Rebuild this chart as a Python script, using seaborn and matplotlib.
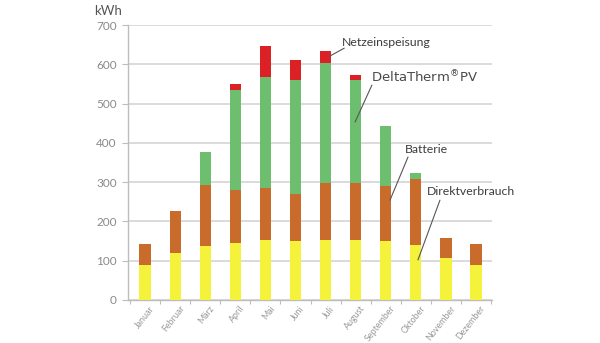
import numpy as np
import pandas as pd
import matplotlib
matplotlib.use("Agg")
import matplotlib.pyplot as plt
import matplotlib.transforms as mtransforms
import seaborn as sns

months = ["Januar", "Februar", "März", "April", "Mai", "Juni", "Juli",
          "August", "September", "Oktober", "November", "Dezember"]
direktverbrauch = [89, 120, 138, 144, 153, 150, 153, 153, 151, 139, 106, 89]
batterie = [53, 106, 154, 137, 133, 120, 146, 144, 139, 168, 53, 53]
deltatherm_pv = [0, 0, 84, 254, 281, 290, 305, 263, 154, 15, 0, 0]
netzeinspeisung = [0, 0, 0, 15, 79, 52, 30, 14, 0, 0, 0, 0]
y_ticks = [0, 100, 200, 300, 400, 500, 600, 700]

sns.set_theme(style="white")
plt.rcParams["font.family"] = ["Lato", "DejaVu Sans"]

colors = {"Direktverbrauch": "#F4F23A", "Batterie": "#C96C2B",
          "DeltaTherm": "#6DBE6E", "Netzeinspeisung": "#DC2126"}

s1 = np.array(direktverbrauch)
s2 = s1 + np.array(batterie)
s3 = s2 + np.array(deltatherm_pv)
s4 = s3 + np.array(netzeinspeisung)

df = pd.DataFrame({"Monat": months, "d": s1, "b": s2, "p": s3, "n": s4})

fig = plt.figure(figsize=(6.0, 3.43), dpi=100)
ax = fig.add_axes([0.2133, 0.1254, 0.6067, 0.8017])

for col, c in [("n", colors["Netzeinspeisung"]), ("p", colors["DeltaTherm"]),
               ("b", colors["Batterie"]), ("d", colors["Direktverbrauch"])]:
    sns.barplot(data=df, x="Monat", y=col, order=months, color=c,
                saturation=1, width=0.37, ax=ax, zorder=3, linewidth=0)

ax.set_xlim(-0.565, 11.53)
ax.set_ylim(0, 700)
ax.set_yticks(y_ticks)
ax.yaxis.grid(True, color="#D4D4D4", linewidth=1.2, zorder=0)
ax.set_axisbelow(True)
ax.set_xlabel("")
ax.set_ylabel("")

for s in ["top", "right"]:
    ax.spines[s].set_visible(False)
for s in ["left", "bottom"]:
    ax.spines[s].set_color("#BDBDBD")
    ax.spines[s].set_linewidth(1.0)

ax.tick_params(axis="y", colors="#BDBDBD", labelcolor="#8A8A8A",
               labelsize=8.5, length=4, width=0.8, left=True, pad=4)
ax.set_xticks(range(12))
ax.set_xticklabels(months, rotation=52, ha="right", va="top",
                   rotation_mode="anchor", fontsize=6.4, color="#999999")
ax.tick_params(axis="x", length=0, pad=3)
offset = mtransforms.ScaledTranslation(4 / 100, 0, fig.dpi_scale_trans)
for lab in ax.get_xticklabels():
    lab.set_transform(lab.get_transform() + offset)
ax.set_xticks(np.arange(-0.5, 12, 1), minor=True)
ax.tick_params(axis="x", which="minor", length=3, color="#BDBDBD", width=0.8,
               bottom=True)

fig.text(0.18, 0.985, "kWh", ha="center", va="top", fontsize=9.5, color="#555555")

line_kw = dict(arrowstyle="-", color="#555555", lw=0.8, shrinkA=0, shrinkB=0)
txt_kw = dict(fontsize=8.8, color="#3C3C3C", va="center", ha="left")

ax.text(6.55, 655, "Netzeinspeisung", **txt_kw)
ax.annotate("", xy=(6.12, 620), xytext=(6.62, 641), arrowprops=line_kw)

ax.text(7.52, 568, r"DeltaTherm$^{\circledR}$PV", fontsize=9.5,
        color="#4A4A4A", va="center", ha="left", family=["DejaVu Sans"])
ax.annotate("", xy=(6.98, 453), xytext=(7.54, 547), arrowprops=line_kw)

ax.text(8.64, 382, "Batterie", **txt_kw)
ax.annotate("", xy=(8.14, 254), xytext=(8.74, 364), arrowprops=line_kw)

ax.text(9.37, 275, "Direktverbrauch", **txt_kw)
ax.annotate("", xy=(9.07, 102), xytext=(9.80, 254), arrowprops=line_kw)

fig.savefig("out.png", dpi=100)
